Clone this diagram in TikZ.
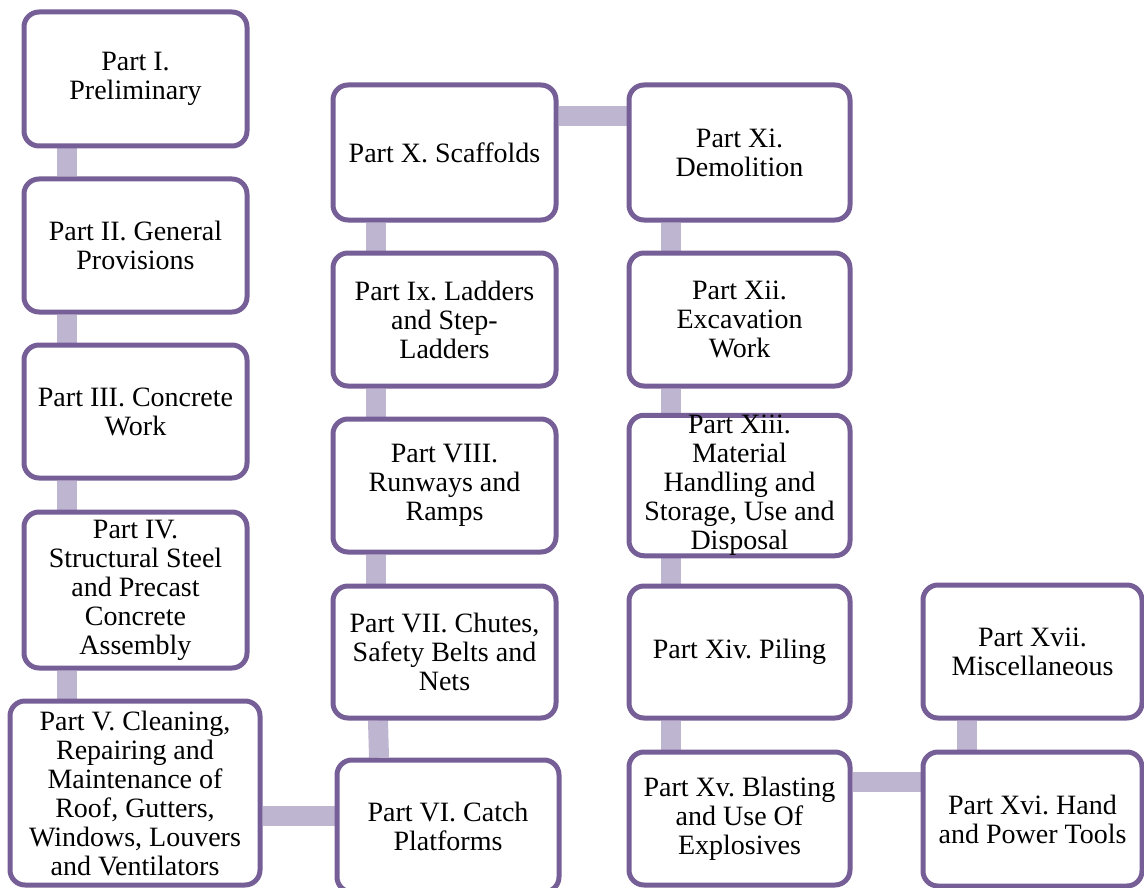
\documentclass[tikz,border=0pt]{standalone}
\usepackage{fontspec}
\setmainfont{Liberation Serif}
\usetikzlibrary{backgrounds}
\definecolor{boxline}{HTML}{765E97}
\definecolor{linkfill}{HTML}{BEB6D1}
\frenchspacing
\begin{document}
\begin{tikzpicture}[x=1pt,y=-1pt,
  part/.style={draw=boxline, line width=5pt, fill=white, rounded corners=15pt,
    rectangle, inner sep=0pt, align=center,
    font=\fontsize{28}{29}\selectfont},
  link/.style={draw=linkfill, line width=20pt}]
\useasboundingbox (0,0) rectangle (1144,888);

% column one
\node[part, minimum width=223pt, minimum height=134pt] (p1)  at (135.5,79)   {Part I.\\Preliminary};
\node[part, minimum width=223pt, minimum height=133pt] (p2)  at (135.5,245.5) {Part II. General\\Provisions};
\node[part, minimum width=223pt, minimum height=133pt] (p3)  at (135.5,411.5) {Part III. Concrete\\Work};
\node[part, minimum width=223pt, minimum height=156pt] (p4)  at (135.5,590)  {Part IV.\\Structural Steel\\and Precast\\Concrete\\Assembly};
\node[part, minimum width=250pt, minimum height=184pt] (p5)  at (135,793)    {Part V. Cleaning,\\Repairing and\\Maintenance of\\Roof, Gutters,\\Windows, Louvers\\and Ventilators};

% column two
\node[part, minimum width=223pt, minimum height=135pt] (p10) at (444.5,152.5) {Part X. Scaffolds};
\node[part, minimum width=223pt, minimum height=133pt] (p9)  at (444.5,319.5) {Part Ix. Ladders\\and Step-\\Ladders};
\node[part, minimum width=223pt, minimum height=133pt] (p8)  at (444.5,485.5) {Part VIII.\\Runways and\\Ramps};
\node[part, minimum width=223pt, minimum height=132pt] (p7)  at (444.5,652)  {Part VII. Chutes,\\Safety Belts and\\Nets};
\node[part, minimum width=222pt, minimum height=132pt] (p6)  at (448,826)    {Part VI. Catch\\Platforms};

% column three
\node[part, minimum width=221pt, minimum height=135pt] (p11) at (739.5,152.5) {Part Xi.\\Demolition};
\node[part, minimum width=221pt, minimum height=133pt] (p12) at (739.5,319.5) {Part Xii.\\Excavation\\Work};
\node[part, minimum width=221pt, minimum height=133pt] (p13) at (739.5,485.5) {Part Xiii.\\Material\\Handling and\\Storage, Use and\\Disposal};
\node[part, minimum width=221pt, minimum height=132pt] (p14) at (739.5,652)  {Part Xiv. Piling};
\node[part, minimum width=221pt, minimum height=133pt] (p15) at (739.5,818.5) {Part Xv. Blasting\\and Use Of\\Explosives};

% column four
\node[part, minimum width=219pt, minimum height=133pt] (p17) at (1032.5,651.5) {Part Xvii.\\Miscellaneous};
\node[part, minimum width=219pt, minimum height=134pt] (p16) at (1032.5,819)  {Part Xvi. Hand\\and Power Tools};

% connectors, drawn underneath the boxes
\begin{pgfonlayer}{background}
  \draw[link] ([xshift=45.5pt]p1.south west) -- ([xshift=45.5pt]p2.north west);
  \draw[link] ([xshift=45.5pt]p2.south west) -- ([xshift=45.5pt]p3.north west);
  \draw[link] ([xshift=45.5pt]p3.south west) -- ([xshift=45.5pt]p4.north west);
  \draw[link] ([xshift=45.5pt]p4.south west) -- ([xshift=59.5pt]p5.north west);
  \draw[link] ([yshift=-117.5pt]p5.north east) -- ([yshift=-58.5pt]p6.north west);
  \draw[link] ([xshift=44.5pt]p6.north west) -- ([xshift=47.5pt]p7.south west);
  \draw[link] ([xshift=45pt]p7.north west) -- ([xshift=45pt]p8.south west);
  \draw[link] ([xshift=45pt]p8.north west) -- ([xshift=45pt]p9.south west);
  \draw[link] ([xshift=45pt]p9.north west) -- ([xshift=45pt]p10.south west);
  \draw[link] ([yshift=-33.5pt]p10.north east) -- ([yshift=-33.5pt]p11.north west);
  \draw[link] ([xshift=44pt]p11.south west) -- ([xshift=44pt]p12.north west);
  \draw[link] ([xshift=44pt]p12.south west) -- ([xshift=44pt]p13.north west);
  \draw[link] ([xshift=44pt]p13.south west) -- ([xshift=44pt]p14.north west);
  \draw[link] ([xshift=44pt]p14.south west) -- ([xshift=44pt]p15.north west);
  \draw[link] ([yshift=-32pt]p15.north east) -- ([yshift=-32pt]p16.north west);
  \draw[link] ([xshift=46pt]p16.north west) -- ([xshift=46pt]p17.south west);
\end{pgfonlayer}
\end{tikzpicture}
\end{document}
